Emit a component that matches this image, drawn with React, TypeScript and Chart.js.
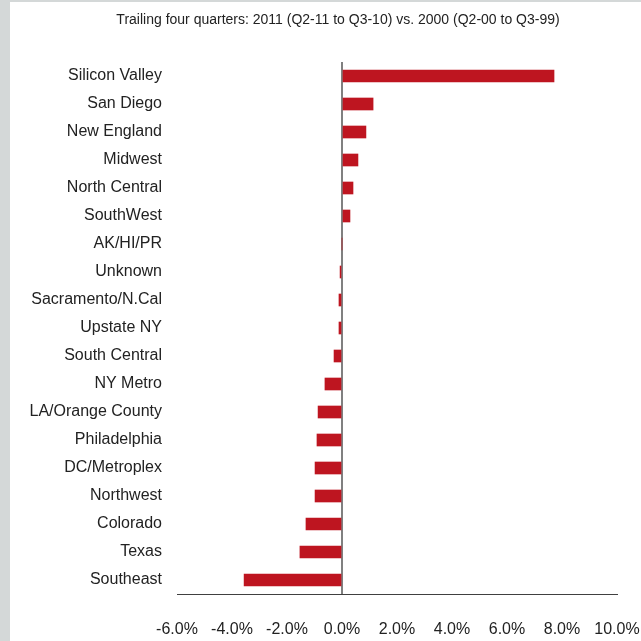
import React, { useEffect, useRef } from "react";
import { Chart, registerables } from "chart.js";

Chart.register(...registerables);

const TITLE = "Trailing four quarters: 2011 (Q2-11 to Q3-10) vs. 2000 (Q2-00 to Q3-99)";

const regions = [
  "Silicon Valley",
  "San Diego",
  "New England",
  "Midwest",
  "North Central",
  "SouthWest",
  "AK/HI/PR",
  "Unknown",
  "Sacramento/N.Cal",
  "Upstate NY",
  "South Central",
  "NY Metro",
  "LA/Orange County",
  "Philadelphia",
  "DC/Metroplex",
  "Northwest",
  "Colorado",
  "Texas",
  "Southeast",
];

const changePct = [
  7.71, 1.13, 0.87, 0.58, 0.4, 0.29, 0.0, -0.07, -0.11, -0.11, -0.29, -0.62,
  -0.87, -0.91, -0.98, -0.98, -1.31, -1.53, -3.56,
];

const xMin = -6;
const xMax = 10;
const xStep = 2;

const FONT = "'Liberation Sans', Arial, sans-serif";

const titlePlugin = {
  id: "customTitle",
  afterDraw(chart: any) {
    const ctx = chart.ctx;
    ctx.save();
    ctx.font = `14px ${FONT}`;
    ctx.fillStyle = "#222";
    ctx.textAlign = "center";
    ctx.textBaseline = "middle";
    ctx.fillText(TITLE, 338, 20);
    ctx.restore();
  },
};

export default function App() {
  const ref = useRef<HTMLCanvasElement | null>(null);

  useEffect(() => {
    if (!ref.current) return;
    const chart = new Chart(ref.current, {
      type: "bar",
      data: {
        labels: regions,
        datasets: [
          {
            data: changePct,
            backgroundColor: "#BE1520",
            borderWidth: 0,
            barThickness: 12,
          },
        ],
      },
      plugins: [titlePlugin],
      options: {
        indexAxis: "y",
        responsive: false,
        animation: false,
        layout: { padding: { top: 62, right: 0, left: 0, bottom: 0 } },
        plugins: {
          legend: { display: false },
          title: { display: false },
          tooltip: { enabled: false },
        },
        scales: {
          x: {
            type: "linear",
            min: xMin,
            max: xMax,
            z: 1,
            ticks: {
              stepSize: xStep,
              padding: 26,
              maxRotation: 0,
              minRotation: 0,
              autoSkip: false,
              color: "#222",
              font: { family: FONT, size: 16 },
              callback: (v: any) => Number(v).toFixed(1) + "%",
            },
            grid: {
              drawTicks: false,
              lineWidth: 2,
              color: (c: any) =>
                c.tick && c.tick.value === 0 ? "#808080" : "rgba(0,0,0,0)",
            },
            border: { display: true, color: "#404040", width: 1 },
            afterFit: (s: any) => {
              s.height = 47;
              s.paddingLeft = 0;
              s.paddingRight = 24;
            },
          },
          y: {
            ticks: {
              padding: 15,
              color: "#222",
              font: { family: FONT, size: 16 },
            },
            grid: { display: false, drawTicks: false },
            border: { display: false },
            afterFit: (s: any) => {
              s.width = 177;
            },
          },
        },
      },
    });
    return () => chart.destroy();
  }, []);

  return (
    <div
      style={{
        position: "fixed",
        left: 0,
        top: 0,
        width: 641,
        height: 641,
        background: "#D4D8D8",
        overflow: "hidden",
      }}
    >
      <div
        style={{
          position: "absolute",
          left: 10,
          top: 2,
          width: 631,
          height: 639,
          background: "#FFFFFF",
        }}
      />
      <canvas
        ref={ref}
        width={641}
        height={641}
        style={{ position: "absolute", left: 0, top: 0, width: 641, height: 641 }}
      />
    </div>
  );
}
